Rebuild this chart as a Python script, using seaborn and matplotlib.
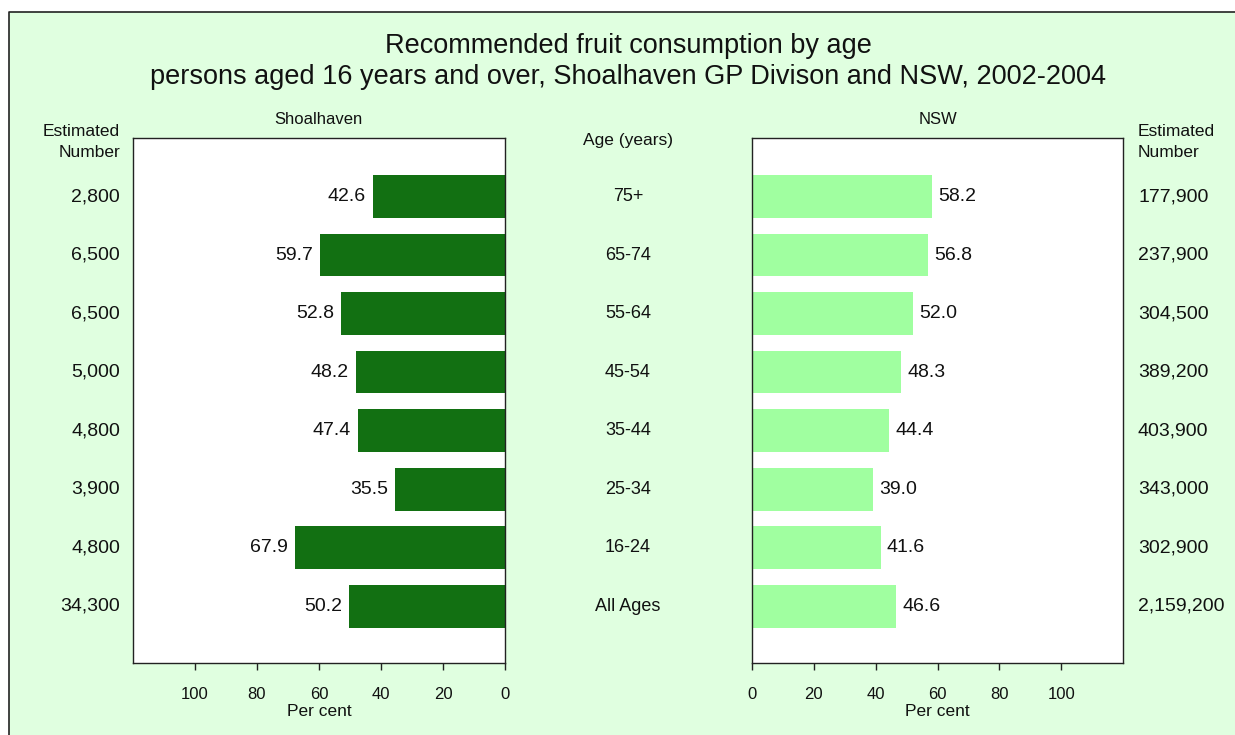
import matplotlib
matplotlib.use("Agg")
import matplotlib.pyplot as plt
import matplotlib.transforms as mtransforms
from matplotlib.patches import Rectangle
from matplotlib.lines import Line2D
import seaborn as sns
import pandas as pd

ages = ["75+", "65-74", "55-64", "45-54", "35-44", "25-34", "16-24", "All Ages"]
shoal_pct = [42.6, 59.7, 52.8, 48.2, 47.4, 35.5, 67.9, 50.2]
shoal_est = ["2,800", "6,500", "6,500", "5,000", "4,800", "3,900", "4,800", "34,300"]
nsw_pct = [58.2, 56.8, 52.0, 48.3, 44.4, 39.0, 41.6, 46.6]
nsw_est = ["177,900", "237,900", "304,500", "389,200", "403,900", "343,000", "302,900", "2,159,200"]
xticks = [0, 20, 40, 60, 80, 100]

title = ("Recommended fruit consumption by age\n"
         "persons aged 16 years and over, Shoalhaven GP Divison and NSW, 2002-2004")

sns.set_theme(style="white")
plt.rcParams['font.family'] = ['Liberation Sans', 'DejaVu Sans']
plt.rcParams['text.color'] = '#111111'

W, H = 1235, 735
fig = plt.figure(figsize=(W / 100, H / 100), dpi=100, facecolor='white')
bg = '#E0FFE0'
x0, y0 = 9 / W, 1 - 12 / H
fig.patches.append(Rectangle((x0, 0), 1 - x0, y0, transform=fig.transFigure,
                             facecolor=bg, edgecolor='none', zorder=-10))
fig.lines.append(Line2D([x0, x0, 1], [0, y0, y0], transform=fig.transFigure,
                        color='#222222', linewidth=1.2, zorder=-9))

df = pd.DataFrame({"age": ages, "shoal": shoal_pct, "nsw": nsw_pct})

axL = fig.add_axes([133 / W, (H - 663) / H, 372 / W, 525 / H])
axR = fig.add_axes([752 / W, (H - 663) / H, 371 / W, 525 / H])

sns.barplot(data=df, y="age", x="shoal", ax=axL, orient="h", color="#127012",
            saturation=1, width=0.73, linewidth=0, order=ages)
sns.barplot(data=df, y="age", x="nsw", ax=axR, orient="h", color="#A0FFA0",
            saturation=1, width=0.73, linewidth=0, order=ages)

for ax in (axL, axR):
    ax.set_facecolor('white')
    ax.set_ylim(7.97, -1.0)
    ax.set_ylabel("")
    ax.set_yticks([])
    ax.set_xticks(xticks)
    ax.tick_params(axis='x', direction='out', length=5, width=1, color='#222222',
                   labelsize=12, labelcolor='#111111', pad=12, bottom=True)
    for s in ax.spines.values():
        s.set_color('#222222')
        s.set_linewidth(1.0)
        s.set_visible(True)
    ax.set_xlabel("Per cent", fontsize=12.5, labelpad=2, color='#111111')

axL.set_xlim(120, 0)
axR.set_xlim(0, 120)

for i, v in enumerate(shoal_pct):
    axL.annotate(f"{v:.1f}", (v, i), xytext=(-5, 0), textcoords='offset points',
                 ha='right', va='center', fontsize=14)
for i, v in enumerate(nsw_pct):
    axR.annotate(f"{v:.1f}", (v, i), xytext=(4.5, 0), textcoords='offset points',
                 ha='left', va='center', fontsize=14)

trL = mtransforms.blended_transform_factory(fig.transFigure, axL.transData)
for i, (a, se, ne) in enumerate(zip(ages, shoal_est, nsw_est)):
    fig.text(120 / W, i, se, transform=trL, ha='right', va='center', fontsize=14)
    fig.text(628 / W, i, a, transform=trL, ha='center', va='center', fontsize=13)
    fig.text(1138 / W, i, ne, transform=trL, ha='left', va='center', fontsize=14)

def fy(y):
    return 1 - y / H

fig.text(120 / W, fy(142), "Estimated\nNumber", ha='right', va='center', fontsize=12.5,
         linespacing=1.45)
fig.text(1138 / W, fy(142), "Estimated\nNumber", ha='left', va='center', fontsize=12.5,
         linespacing=1.45)
fig.text(318 / W, fy(120), "Shoalhaven", ha='center', va='center', fontsize=12)
fig.text(938 / W, fy(120), "NSW", ha='center', va='center', fontsize=12)
fig.text(628 / W, fy(141), "Age (years)", ha='center', va='center', fontsize=12.5)
fig.text(628 / W, fy(61.5), title, ha='center', va='center', fontsize=19.5, linespacing=1.22)

fig.savefig("out.png", dpi=100, facecolor=fig.get_facecolor())
